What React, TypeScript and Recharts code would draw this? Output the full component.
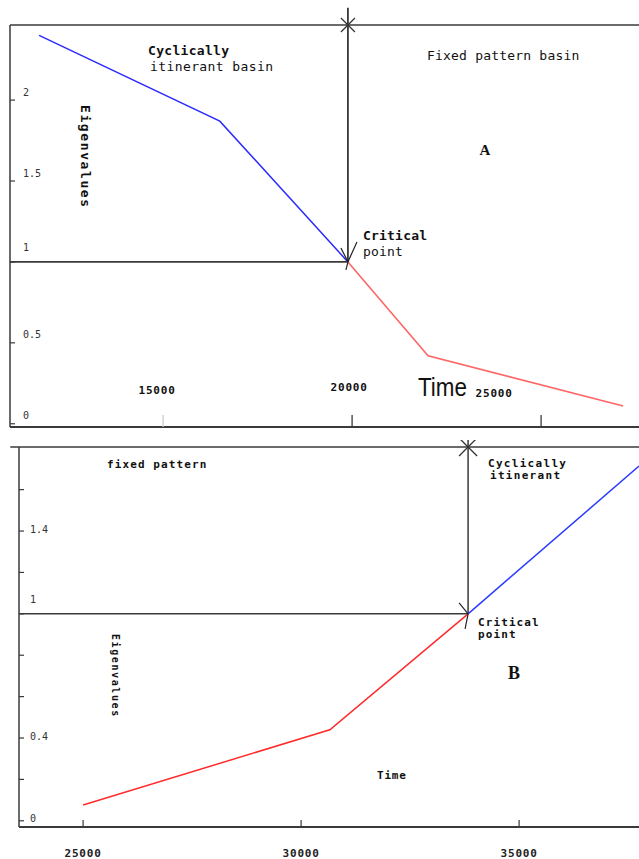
import React from 'react';
import { LineChart, Line, XAxis, YAxis, ReferenceLine, ReferenceDot } from 'recharts';

// Panel A: eigenvalue falls through 1 at the critical point
const cyclicTimeA = [11720, 16500, 19890];
const cyclicValA = [2.4, 1.87, 1.0];
const fixedTimeA = [19890, 22010, 27170];
const fixedValA = [1.0, 0.42, 0.11];
const criticalTimeA = 19890;
const xTicksA = [15000, 20000, 25000];
const yTicksA = [0, 0.5, 1, 1.5, 2];

// Panel B: eigenvalue rises through 1
const fixedTimeB = [25000, 30660, 33830];
const fixedValB = [0.076, 0.44, 1.0];
const cyclicTimeB = [33830, 37750];
const cyclicValB = [1.0, 1.714];
const criticalTimeB = 33830;
const xTicksB = [25000, 30000, 35000];
const yTicksB = [0, 0.2, 0.4, 0.6, 0.8, 1, 1.2, 1.4, 1.6];
const yLabelsB = ['0', '', '0.4', '', '', '1', '', '1.4', ''];

const domainXA: [number, number] = [10950, 27590];
const domainYA: [number, number] = [-0.02, 2.464];
const domainXB: [number, number] = [23530, 37750];
const domainYB: [number, number] = [-0.03, 1.806];

const toRows = (ts: number[], vs: number[]) => ts.map((t, i) => ({ t, v: vs[i] }));

const AXIS = '#3a3a3a';
const MONO = '"DejaVu Sans Mono", monospace';

// label nudges for panel A x ticks (the original labels sit inside the plot)
const labelShiftA = [
  { dx: -6, dy: -37 },
  { dx: -3, dy: -40 },
  { dx: -47, dy: -34 },
];

const XTickA = ({ x, y, payload, index }: any) => (
  <g>
    <line x1={x} y1={y} x2={x} y2={y - 12} stroke={index === 0 ? '#ccc' : AXIS} strokeWidth={1.3} />
    <text
      x={x + labelShiftA[index].dx}
      y={y + labelShiftA[index].dy}
      textAnchor="middle"
      dominantBaseline="central"
      fontFamily={MONO}
      fontWeight="bold"
      fontSize={11}
      letterSpacing={0.8}
      fill="#111"
    >
      {payload.value}
    </text>
  </g>
);

const YTickA = ({ x, y, payload }: any) => (
  <g>
    <line x1={x} y1={y} x2={x + 5} y2={y} stroke={AXIS} strokeWidth={1.2} />
    <text
      x={x + 13}
      y={payload.value === 1 ? y - 14 : y - 8}
      dominantBaseline="central"
      fontFamily={MONO}
      fontSize={10}
      fill="#333"
    >
      {payload.value}
    </text>
  </g>
);

const XTickB = ({ x, y, payload }: any) => (
  <g>
    <line x1={x} y1={y} x2={x} y2={y - 7} stroke={AXIS} strokeWidth={1.2} />
    <text
      x={x}
      y={y + 26}
      textAnchor="middle"
      dominantBaseline="central"
      fontFamily={MONO}
      fontWeight="bold"
      fontSize={11}
      letterSpacing={0.8}
      fill="#222"
    >
      {payload.value}
    </text>
  </g>
);

const YTickB = ({ x, y, payload, index }: any) => (
  <g>
    <line x1={x} y1={y} x2={x + 5} y2={y} stroke={AXIS} strokeWidth={1.2} />
    <text
      x={x + 11}
      y={payload.value === 1 ? y - 14 : y - 2}
      dominantBaseline="central"
      fontFamily={MONO}
      fontSize={10}
      fill="#333"
    >
      {yLabelsB[index]}
    </text>
  </g>
);

const Star = (size: number) => (p: any) => (
  <g stroke="#333" strokeWidth={1.3}>
    <line x1={p.cx - size} y1={p.cy - size} x2={p.cx + size} y2={p.cy + size} />
    <line x1={p.cx - size} y1={p.cy + size} x2={p.cx + size} y2={p.cy - size} />
  </g>
);

const CriticalA = (p: any) => (
  <g stroke="#222" strokeWidth={1.2} fill="none">
    <polyline points={`${p.cx - 7},${p.cy - 14} ${p.cx},${p.cy}`} />
    <polyline points={`${p.cx + 9},${p.cy - 20} ${p.cx},${p.cy} ${p.cx - 2},${p.cy + 8}`} />
  </g>
);

const CriticalB = (p: any) => (
  <g stroke="#222" strokeWidth={1.2} fill="none">
    <polyline points={`${p.cx - 9},${p.cy - 11} ${p.cx},${p.cy} ${p.cx - 3},${p.cy + 15}`} />
  </g>
);

const note = { fontFamily: MONO, fontWeight: 'bold' as const, fill: '#111' };

export default function App() {
  return (
    <div style={{ position: 'absolute', left: 0, top: 0, width: 639, height: 859, background: '#fff' }}>
      <div style={{ position: 'absolute', left: 0, top: 0 }}>
        <LineChart width={639} height={440} margin={{ top: 25, right: 0, left: 0, bottom: 0 }}>
          <XAxis
            dataKey="t"
            type="number"
            domain={domainXA}
            allowDataOverflow
            ticks={xTicksA}
            height={13}
            tickSize={0}
            tickMargin={0}
            tickLine={false}
            tick={<XTickA />}
            stroke={AXIS}
            strokeWidth={1.8}
          />
          <YAxis
            type="number"
            domain={domainYA}
            allowDataOverflow
            ticks={yTicksA}
            width={10}
            tickSize={0}
            tickMargin={0}
            tickLine={false}
            tick={<YTickA />}
            stroke={AXIS}
            strokeWidth={1.5}
          />
          <ReferenceLine
            segment={[{ x: domainXA[0], y: domainYA[1] }, { x: domainXA[1], y: domainYA[1] }]}
            stroke={AXIS}
            strokeWidth={1.5}
            ifOverflow="visible"
          />
          <ReferenceLine
            segment={[{ x: domainXA[0], y: 1 }, { x: criticalTimeA, y: 1 }]}
            stroke={AXIS}
            strokeWidth={1.8}
            ifOverflow="visible"
          />
          <ReferenceLine
            segment={[{ x: criticalTimeA, y: 1 }, { x: criticalTimeA, y: 2.57 }]}
            stroke="#111"
            strokeWidth={1.5}
            ifOverflow="visible"
          />
          <Line
            data={toRows(cyclicTimeA, cyclicValA)}
            dataKey="v"
            stroke="#2b2bff"
            strokeWidth={1.5}
            dot={false}
            isAnimationActive={false}
          />
          <Line
            data={toRows(fixedTimeA, fixedValA)}
            dataKey="v"
            stroke="#ff6666"
            strokeWidth={1.6}
            dot={false}
            isAnimationActive={false}
          />
          <ReferenceDot x={criticalTimeA} y={domainYA[1]} r={0} ifOverflow="visible" shape={Star(7)} />
          <ReferenceDot x={criticalTimeA} y={1} r={0} ifOverflow="visible" shape={CriticalA} />
        </LineChart>
      </div>

      <div style={{ position: 'absolute', left: 0, top: 440 }}>
        <LineChart width={639} height={419} margin={{ top: 7, right: 0, left: 0, bottom: 0 }}>
          <XAxis
            dataKey="t"
            type="number"
            domain={domainXB}
            allowDataOverflow
            ticks={xTicksB}
            height={32}
            tickSize={0}
            tickMargin={0}
            tickLine={false}
            tick={<XTickB />}
            stroke={AXIS}
            strokeWidth={1.8}
          />
          <YAxis
            type="number"
            domain={domainYB}
            allowDataOverflow
            ticks={yTicksB}
            interval={0}
            width={19}
            tickSize={0}
            tickMargin={0}
            tickLine={false}
            tick={<YTickB />}
            stroke={AXIS}
            strokeWidth={1.5}
          />
          <ReferenceLine
            segment={[{ x: 23330, y: domainYB[1] }, { x: domainXB[1], y: domainYB[1] }]}
            stroke={AXIS}
            strokeWidth={1.5}
            ifOverflow="visible"
          />
          <ReferenceLine
            segment={[{ x: domainXB[0], y: 1 }, { x: criticalTimeB, y: 1 }]}
            stroke={AXIS}
            strokeWidth={1.6}
            ifOverflow="visible"
          />
          <ReferenceLine
            segment={[{ x: criticalTimeB, y: 1 }, { x: criticalTimeB, y: 1.84 }]}
            stroke={AXIS}
            strokeWidth={1.5}
            ifOverflow="visible"
          />
          <Line
            data={toRows(fixedTimeB, fixedValB)}
            dataKey="v"
            stroke="#ff2a2a"
            strokeWidth={1.5}
            dot={false}
            isAnimationActive={false}
          />
          <Line
            data={toRows(cyclicTimeB, cyclicValB)}
            dataKey="v"
            stroke="#2b3bff"
            strokeWidth={1.5}
            dot={false}
            isAnimationActive={false}
          />
          <ReferenceDot x={criticalTimeB} y={domainYB[1]} r={0} ifOverflow="visible" shape={Star(9)} />
          <ReferenceDot x={criticalTimeB} y={1} r={0} ifOverflow="visible" shape={CriticalB} />
        </LineChart>
      </div>

      <svg
        width={639}
        height={859}
        style={{ position: 'absolute', left: 0, top: 0, pointerEvents: 'none' }}
      >
        {/* panel A notes */}
        <text x={148} y={50} fontSize={13} letterSpacing={0.3} dominantBaseline="central" {...note}>Cyclically</text>
        <text x={150} y={66} fontSize={13} letterSpacing={0.4} dominantBaseline="central" {...note} fontWeight="normal">itinerant basin</text>
        <text x={427} y={55} fontSize={13} letterSpacing={0.2} dominantBaseline="central" {...note} fontWeight="normal">Fixed pattern basin</text>
        <text x={485} y={150} fontSize={15} textAnchor="middle" dominantBaseline="central" fontFamily='"Liberation Serif", serif' fontWeight="bold" fill="#111">A</text>
        <text x={363} y={235} fontSize={13} letterSpacing={0.2} dominantBaseline="central" {...note}>Critical</text>
        <text x={363} y={251} fontSize={13} letterSpacing={0.2} dominantBaseline="central" {...note} fontWeight="normal">point</text>
        <text x={85} y={105} fontSize={13} letterSpacing={1.6} dominantBaseline="central" transform="rotate(90, 85, 105)" {...note}>Eigenvalues</text>
        <text x={418} y={387} fontSize={25} textLength={49} lengthAdjust="spacingAndGlyphs" dominantBaseline="central" fontFamily='"Liberation Sans", Arial, sans-serif' fill="#111">Time</text>

        {/* panel B notes */}
        <text x={107} y={464} fontSize={11} letterSpacing={1.1} dominantBaseline="central" {...note}>fixed pattern</text>
        <text x={488} y={463} fontSize={11} letterSpacing={1.3} dominantBaseline="central" {...note}>Cyclically</text>
        <text x={490} y={475} fontSize={11} letterSpacing={1.3} dominantBaseline="central" {...note}>itinerant</text>
        <text x={478} y={622} fontSize={11} letterSpacing={1.1} dominantBaseline="central" {...note}>Critical</text>
        <text x={478} y={634} fontSize={11} letterSpacing={1.1} dominantBaseline="central" {...note}>point</text>
        <text x={514} y={673} fontSize={18} textAnchor="middle" dominantBaseline="central" fontFamily='"Liberation Serif", serif' fontWeight="bold" fill="#111">B</text>
        <text x={115} y={634} fontSize={10} letterSpacing={1.6} dominantBaseline="central" transform="rotate(90, 115, 634)" {...note}>Eigenvalues</text>
        <text x={377} y={775} fontSize={11} letterSpacing={0.8} dominantBaseline="central" {...note}>Time</text>
      </svg>
    </div>
  );
}
